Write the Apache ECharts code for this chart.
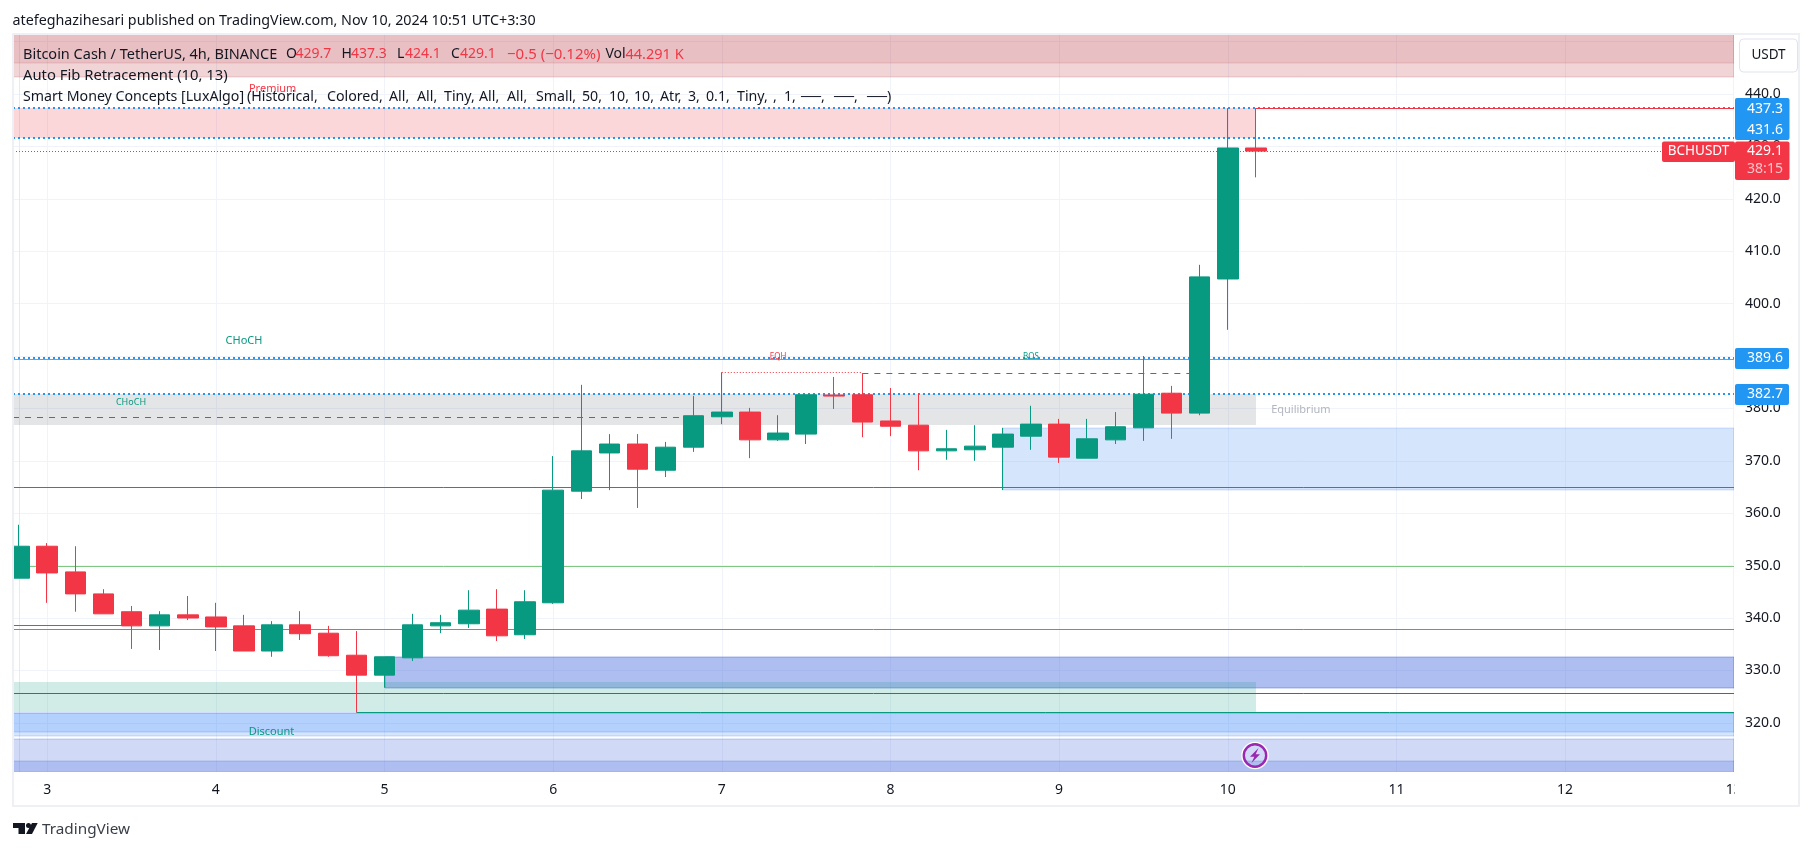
<!DOCTYPE html>
<html>
<head>
<meta charset="utf-8">
<style>html,body{margin:0;padding:0;background:#fff}#c{width:1814px;height:851px}</style>
<script src="https://cdn.jsdelivr.net/npm/echarts@6/dist/echarts.min.js"></script>
</head>
<body>
<div id="c"></div>
<script>
// ---- candles (4h bars), slot = bar number on the time scale
const candleSlots = [0,1,2,3,4,5,6,7,8,9,10,11,12,13,14,15,16,17,18,19,20,21,22,23,24,25,26,27,28,29,30,31,32,33,34,35,36,37,38,39,40,41,42,43,44];
const opens  = [347.6,353.7,348.8,344.6,341.2,338.5,340.6,340.2,338.5,333.7,338.7,337.1,332.9,329.1,332.4,338.5,338.9,341.7,336.8,342.9,364.2,371.5,373.2,368.2,372.6,378.4,379.3,374.0,375.1,382.55,382.6,377.6,376.8,371.9,372.1,372.6,374.7,377.0,370.5,374.0,376.3,382.9,379.1,404.7,429.7];
const closes = [353.7,348.6,344.6,340.8,338.5,340.6,340.0,338.3,333.7,338.7,337.0,332.8,329.1,332.6,338.7,339.1,341.5,336.6,343.1,364.4,371.9,373.2,368.4,372.6,378.6,379.3,374.0,375.3,382.6,382.35,377.4,376.6,371.9,372.3,372.8,375.1,377.0,370.7,374.2,376.5,382.7,379.1,405.1,429.7,429.1];
const lows   = [347.6,342.9,341.2,340.8,334.1,333.9,339.6,333.7,333.7,332.6,335.8,332.6,322.0,326.7,331.8,337.1,338.1,335.6,336.0,342.7,362.7,364.4,361.0,366.9,371.7,377.0,370.5,373.8,373.2,379.9,374.5,374.7,368.2,370.2,370.0,364.4,372.1,369.6,370.5,373.2,373.8,374.2,378.7,395.0,424.1];
const highs  = [357.8,354.3,353.7,345.5,342.3,341.3,344.2,342.9,340.6,339.4,341.3,338.5,337.5,332.6,340.8,340.6,345.3,345.5,345.3,370.9,384.5,375.1,375.1,373.6,382.4,386.9,380.1,378.7,382.6,386.0,386.7,383.9,382.9,375.9,376.8,376.3,380.5,378.0,378.0,379.3,390.0,384.3,407.4,437.3,437.3];

// ---- axes
const priceTicks = [320,330,340,350,360,370,380,390,400,410,420,430,440,450];
const hiddenPriceLabel = 450; // sits behind the currency button in the reference
const dayTickSlots = [1,7,13,19,25,31,37,43,49,55,61];
const dayTickLabels = ['3','4','5','6','7','8','9','10','11','12','13'];
const slotMin = -0.217, slotMax = 61.01, priceMin = 310.67, priceMax = 451.45;

// ---- indicator zones (prices)
const bandStart  = [slotMin,slotMin,slotMin,slotMin,13,slotMin,slotMin,35,slotMin,slotMin,slotMin];
const bandEnd    = [slotMax,slotMax,44,44,slotMax,44,slotMax,slotMax,slotMax,slotMax,slotMax];
const bandTop    = [priceMax,priceMax,437.3,382.7,332.5,327.8,321.8,376.2,321.8,316.9,312.65];
const bandBottom = [443.19,445.86,431.6,376.8,326.7,322.0,317.55,364.5,318.3,priceMin,priceMin];
const bandFill = ['rgba(178,40,51,.2)','rgba(178,40,51,.12)','rgba(242,54,69,.2)','rgba(120,123,134,.2)','rgba(69,104,220,.43)','rgba(8,153,129,.19)','rgba(33,120,240,.19)','rgba(33,120,240,.19)','rgba(33,120,255,.19)','rgba(69,104,220,.25)','rgba(69,104,220,.24)'];
const bandEdge = ['rgba(178,40,51,.2)','rgba(178,40,51,.15)',null,null,'rgba(41,80,210,.4)',null,'rgba(41,98,255,.22)','rgba(41,98,255,.2)','rgba(41,98,255,.22)','rgba(41,80,210,.25)','rgba(41,80,210,.22)'];

// ---- indicator levels
const ruleStart = [slotMin,slotMin,slotMin,slotMin,slotMin,slotMin,44,slotMin,slotMin,slotMin,slotMin,12,slotMin,slotMin,30,25];
const ruleEnd   = [slotMax,slotMax,slotMax,slotMax,slotMax,slotMax,slotMax,slotMax,slotMax,slotMax,slotMax,slotMax,4,24,42,30];
const rulePrice = [437.3,431.6,389.6,382.7,389.35,429.1,437.2,364.9,337.8,349.9,325.6,322.0,338.6,378.3,386.7,386.9];
const ruleColor = ['#2196f3','#2196f3','#2196f3','#2196f3','#6f9fd8','#f23645','#f23645','#e5393b','#4caf50','#81c784','#0d8a76','#089981','#f23645','#1c8f7b','#1c8f7b','#f23645'];
const ruleDash  = [[2,3],[2,3],[2,3],[2,3],null,[1,2],null,null,null,null,null,null,null,[6,6],[6,6],[1,2]];
const ruleWidth = [2,2,2,2,1,1,1,1,1,1,1,1,1,1,1,1];

// ---- structure labels
const noteTexts  = ['CHoCH','CHoCH','EQH','BOS','Premium','Discount','Equilibrium'];
const noteSlots  = [8,3.98,27,36,9.02,8.98,45.6];
const notePrices = [392.9,381.1,389.9,389.9,440.95,318.35,379.7];
const noteColors = ['#089981','#089981','#f23645','#089981','#f23645','#089981','#b2b5be'];
const noteSizes  = [11,9,8,8,11,11,11];

// ---- study parameters in the legend
const studyArgs = ['(Historical,','Colored,','All,','All,','Tiny,','All,','All,','Small,','50,','10,','10,','Atr,','3,','0.1,','Tiny,',',','1,','\u2500\u2500,','\u2500\u2500,','\u2500\u2500)'];
const studyArgX = [247,327,389,417,444,479,507,536,582,609,634,660,688,706,737,773,784,801,834,867];

const FONT = '"Noto Sans", sans-serif';
const INK = '#131722', RED = '#f23645', BLUE = '#2196f3', GRID = '#f0f3fa';

function txt(x, y, text, fill, size, align) {
  return {type:'text', z:100, x:x, y:y, style:{text:text, fill:fill||INK, font:(size||14)+'px '+FONT, align:align||'left', verticalAlign:'middle'}};
}
function tag(x, y, w, h, fill) {
  return {type:'rect', z:99, shape:{x:x,y:y,width:w,height:h,r:2}, style:{fill:fill}};
}

const chart = echarts.init(document.getElementById('c'), null, {renderer:'canvas', width:1814, height:851});

const graphicEls = [
  // candle bodies are cut off at the left edge of the pane
  {type:'rect', z:50, shape:{x:0,y:33,width:13,height:775}, style:{fill:'#fff'}},
  {type:'rect', z:51, shape:{x:13,y:34,width:1786,height:772}, style:{fill:'none', stroke:'#eff0f5', lineWidth:2}},
  txt(12.5,20.5,'atefeghazihesari published on TradingView.com, Nov 10, 2024 10:51 UTC+3:30',INK,14.3),
  txt(23,54.5,'Bitcoin Cash / TetherUS, 4h, BINANCE',INK,14.5),
  txt(286,54.5,'O'),txt(295.5,54.5,'429.7',RED),
  txt(341.5,54.5,'H'),txt(351,54.5,'437.3',RED),
  txt(397,54.5,'L'),txt(405,54.5,'424.1',RED),
  txt(451,54.5,'C'),txt(460,54.5,'429.1',RED),
  txt(507,54.5,'\u22120.5 (\u22120.12%)',RED,15),
  txt(605.5,54.5,'Vol'),txt(625.5,54.5,'44.291 K',RED,14.5),
  txt(23,75.5,'Auto Fib Retracement (10, 13)',INK,14.8),
  txt(23,96.5,'Smart Money Concepts [LuxAlgo]',INK,14.2)
].concat(studyArgs.map((s,i)=>txt(studyArgX[i],96.5,s,INK,14.2))).concat([
  // USDT button
  {type:'rect', z:99, shape:{x:1739.5,y:39,width:58,height:33,r:4}, style:{fill:'#fff',stroke:'#e0e3eb',lineWidth:1}},
  txt(1768.5,55.5,'USDT',INK,13.5,'center'),
  // clip the last date label at the price scale
  {type:'rect', z:98, shape:{x:1735,y:773,width:62,height:31}, style:{fill:'#fff'}},
  // price tags
  tag(1735,98,54.5,42,BLUE), txt(1765,109,'437.3','#fff',14,'center'), txt(1765,130,'431.6','#fff',14,'center'),
  tag(1735,141.5,54.5,38.5,RED), txt(1765,151,'429.1','#fff',14,'center'), txt(1765,169.5,'38:15','#fbc2c8',14,'center'),
  tag(1662,141.5,73,20.5,RED), txt(1698.5,151.5,'BCHUSDT','#fff',13.5,'center'),
  tag(1735,348,54,21,BLUE), txt(1765,358.5,'389.6','#fff',14,'center'),
  tag(1735,384,54,21,BLUE), txt(1765,394.5,'382.7','#fff',14,'center'),
  // lightning event badge
  {type:'circle', z:99, shape:{cx:1255,cy:755.5,r:13}, style:{fill:'none',stroke:'#fff',lineWidth:1.5}},
  {type:'circle', z:99, shape:{cx:1255,cy:755.5,r:11.2}, style:{fill:'none',stroke:'#9c27b0',lineWidth:2.4}},
  {type:'polygon', z:99, shape:{points:[[1258.5,748],[1250,756.7],[1254.3,756.7],[1251.5,763],[1260,754.3],[1255.7,754.3]]}, style:{fill:'#9c27b0'}},
  // TradingView logo
  {type:'polygon', z:99, shape:{points:[[13,823],[25,823],[25,834],[18.5,834],[18.5,828],[13,828]]}, style:{fill:INK}},
  {type:'circle', z:99, shape:{cx:28.5,cy:825.5,r:2.5}, style:{fill:INK}},
  {type:'polygon', z:99, shape:{points:[[32,823],[37.7,823],[32,834],[26,834]]}, style:{fill:INK}},
  txt(42,829.5,'TradingView','#3a3e49',15.3)
]);

const option = {
  animation:false,
  backgroundColor:'#fff',
  textStyle:{fontFamily:FONT},
  grid:{left:13, right:80, top:34, bottom:79.3, containLabel:false},
  xAxis:{
    type:'value', min:slotMin, max:slotMax, scale:true,
    axisLine:{show:false},
    axisTick:{show:false, customValues:dayTickSlots},
    axisLabel:{customValues:dayTickSlots, margin:11, color:INK, fontSize:14, fontFamily:FONT, showMinLabel:true, showMaxLabel:true,
      formatter:v=>dayTickLabels[dayTickSlots.indexOf(Math.round(v))]||''},
    splitLine:{show:true, lineStyle:{color:GRID, width:1}}
  },
  yAxis:{
    type:'value', position:'right', min:priceMin, max:priceMax, scale:true,
    axisLine:{show:true, lineStyle:{color:'#e8eaf0'}},
    axisTick:{show:false, customValues:priceTicks},
    axisLabel:{customValues:priceTicks, margin:11, color:INK, fontSize:14, fontFamily:FONT,
      formatter:v=>v===hiddenPriceLabel?'':v.toFixed(1)},
    splitLine:{show:true, lineStyle:{color:GRID, width:1}}
  },
  graphic:{elements:graphicEls},
  series:[
    {
      type:'custom', name:'zones', z:1, clip:true, silent:true,
      data:bandStart.map((s,i)=>[s,bandTop[i],bandEnd[i],bandBottom[i]]),
      encode:{x:[0,2],y:[1,3]},
      renderItem:(p,api)=>{
        const a=api.coord([api.value(0),api.value(1)]), b=api.coord([api.value(2),api.value(3)]);
        const x=Math.round(a[0]), y=Math.round(a[1]);
        return {type:'rect', shape:{x:x,y:y,width:Math.round(b[0])-x,height:Math.round(b[1])-y},
          style:{fill:bandFill[p.dataIndex], stroke:bandEdge[p.dataIndex]||null, lineWidth:1}};
      }
    },
    {
      type:'custom', name:'levels', z:2, clip:true, silent:true,
      data:ruleStart.map((s,i)=>[s,rulePrice[i],ruleEnd[i]]),
      encode:{x:[0,2],y:1},
      renderItem:(p,api)=>{
        const a=api.coord([api.value(0),api.value(1)]), b=api.coord([api.value(2),api.value(1)]);
        const y=ruleWidth[p.dataIndex]%2?Math.floor(a[1])+0.5:Math.round(a[1]);
        return {type:'line', shape:{x1:a[0],y1:y,x2:b[0],y2:y},
          style:{stroke:ruleColor[p.dataIndex], lineWidth:ruleWidth[p.dataIndex], lineDash:ruleDash[p.dataIndex]||null}};
      }
    },
    {
      type:'candlestick', name:'BCHUSDT', z:3, barWidth:21, clip:true, silent:true,
      data:candleSlots.map((s,i)=>[s,opens[i],closes[i],lows[i],highs[i]]),
      encode:{x:0,y:[1,2,3,4]},
      itemStyle:{color:'#089981',color0:RED,borderColor:'#089981',borderColor0:RED,borderWidth:1}
    },
    {
      type:'custom', name:'notes', z:4, clip:true, silent:true,
      data:noteSlots.map((s,i)=>[s,notePrices[i]]),
      encode:{x:0,y:1},
      renderItem:(p,api)=>{
        const a=api.coord([api.value(0),api.value(1)]), i=p.dataIndex;
        return {type:'text', x:a[0], y:a[1], style:{text:noteTexts[i], fill:noteColors[i], font:noteSizes[i]+'px '+FONT, align:'center', verticalAlign:'middle'}};
      }
    }
  ]
};
chart.setOption(option);
</script>
</body>
</html>
